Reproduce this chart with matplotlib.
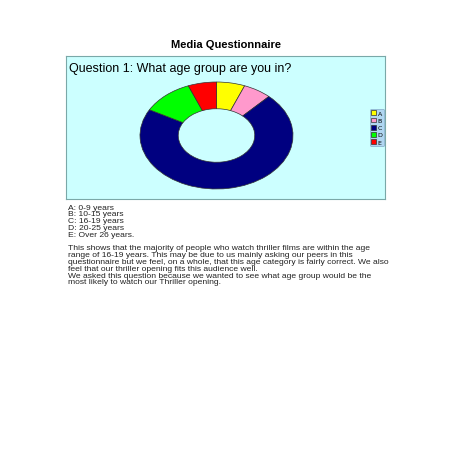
import matplotlib.pyplot as plt

labels = ['A', 'B', 'C', 'D', 'E']
shares = [6, 6, 71, 11, 6]
colors = ['#ffff00', '#ff99cc', '#000080', '#00ff00', '#ff0000']

W = H = 452.0
fig = plt.figure(figsize=(4.52, 4.52), dpi=100)
fig.patch.set_facecolor('white')

def box(x0, y0, x1, y1):
    return [x0 / W, 1 - y1 / H, (x1 - x0) / W, (y1 - y0) / H]

fig.text(226 / W, 1 - 45 / H, 'Media Questionnaire', ha='center', va='center',
         fontsize=8, fontweight='bold', family='Liberation Sans')

frame = fig.add_axes(box(66, 57, 385, 200))
frame.set_facecolor('#ccffff')
frame.set_xticks([])
frame.set_yticks([])
for s in frame.spines.values():
    s.set_color('#7aa8a8')
frame.text(0.01, 0.96, 'Question 1: What age group are you in?', transform=frame.transAxes,
           ha='left', va='top', fontsize=9, family='Liberation Sans')

pie_ax = fig.add_axes(box(140, 83, 293, 190))
wedges, _ = pie_ax.pie(shares, colors=colors, startangle=90, counterclock=False,
                       wedgeprops=dict(width=0.5, edgecolor='#333333', linewidth=0.5))
pie_ax.set_xlim(-1, 1)
pie_ax.set_ylim(-1, 1)
pie_ax.set_aspect('auto')

leg = frame.legend(wedges, labels, loc='center left', bbox_to_anchor=(0.952, 0.5),
                   fontsize=4.5, frameon=True, facecolor='#aaccee', edgecolor='#7799bb',
                   handlelength=0.8, handleheight=0.8, handletextpad=0.2,
                   borderpad=0.25, labelspacing=0.25, borderaxespad=0)
leg.get_frame().set_linewidth(0.5)

lines = ['A: 0-9 years', 'B: 10-15 years', 'C: 16-19 years', 'D: 20-25 years',
         'E: Over 26 years.', '',
         'This shows that the majority of people who watch thriller films are within the age',
         'range of 16-19 years. This may be due to us mainly asking our peers in this',
         'questionnaire but we feel, on a whole, that this age category is fairly correct. We also',
         'feel that our thriller opening fits this audience well.',
         'We asked this question because we wanted to see what age group would be the',
         'most likely to watch our Thriller opening.']
y = 208
for ln in lines:
    fig.text(68 / W, 1 - y / H, ln, ha='left', va='center', fontsize=6.1,
             family='Liberation Sans', color='#222222')
    y += 6.9 if ln else 6.0

fig.savefig('out.png', dpi=100)
